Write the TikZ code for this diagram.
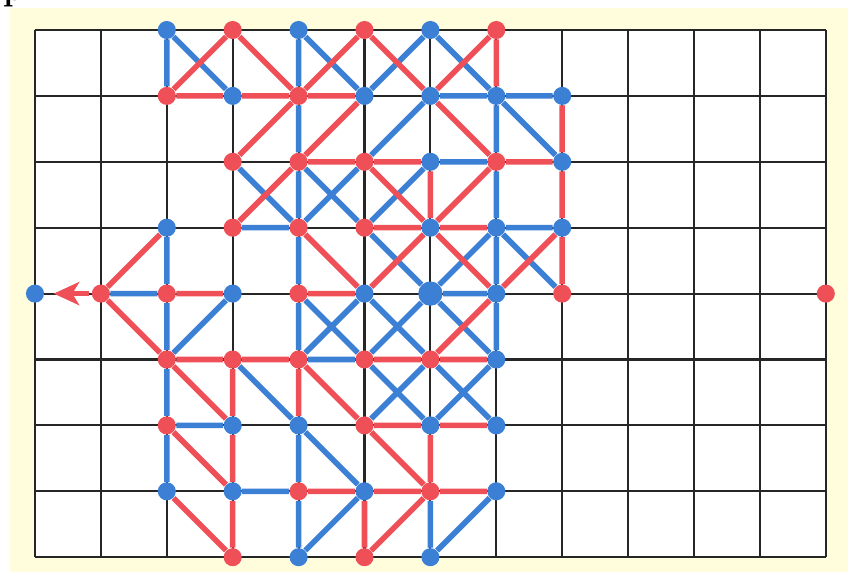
\documentclass[tikz,border=0pt]{standalone}
\usepackage{tikz}
\usetikzlibrary{arrows.meta,backgrounds}
\definecolor{dotblue}{HTML}{3B80D4}
\definecolor{dotred}{HTML}{EF5058}
\definecolor{paper}{HTML}{FFFDDC}

\begin{document}
\begin{tikzpicture}[
  bdot/.style={circle, fill=dotblue, inner sep=0pt, minimum size=7.8pt},
  rdot/.style={circle, fill=dotred, inner sep=0pt, minimum size=7.8pt},
  bigdot/.style={bdot, minimum size=10.5pt},
  bedge/.style={dotblue, line width=2.4pt},
  redge/.style={dotred, line width=2.4pt},
  gridline/.style={black!85, line width=0.9pt},
  redarr/.style={dotred, line width=2.4pt, -{Stealth[length=11pt,width=10pt,inset=3pt]}}
]
  \useasboundingbox (-0.531,0.455) rectangle (12.337,-8.225);

  % Cropped heading letter
  \node[anchor=base west, inner sep=0pt, font=\bfseries\Large] (head) at (-0.49,0.455) {p};

  % Row 0
  \node[bdot] (b20) at (2,0) {};
  \node[rdot] (r30) at (3,0) {};
  \node[bdot] (b40) at (4,0) {};
  \node[rdot] (r50) at (5,0) {};
  \node[bdot] (b60) at (6,0) {};
  \node[rdot] (r70) at (7,0) {};
  % Row 1
  \node[rdot] (r21) at (2,-1) {};
  \node[bdot] (b31) at (3,-1) {};
  \node[rdot] (r41) at (4,-1) {};
  \node[bdot] (b51) at (5,-1) {};
  \node[bdot] (b61) at (6,-1) {};
  \node[bdot] (b71) at (7,-1) {};
  \node[bdot] (b81) at (8,-1) {};
  % Row 2
  \node[rdot] (r32) at (3,-2) {};
  \node[rdot] (r42) at (4,-2) {};
  \node[rdot] (r52) at (5,-2) {};
  \node[bdot] (b62) at (6,-2) {};
  \node[rdot] (r72) at (7,-2) {};
  \node[bdot] (b82) at (8,-2) {};
  % Row 3
  \node[bdot] (b23) at (2,-3) {};
  \node[rdot] (r33) at (3,-3) {};
  \node[rdot] (r43) at (4,-3) {};
  \node[rdot] (r53) at (5,-3) {};
  \node[bdot] (b63) at (6,-3) {};
  \node[bdot] (b73) at (7,-3) {};
  \node[bdot] (b83) at (8,-3) {};
  % Row 4
  \node[bdot] (b04) at (0,-4) {};
  \node[rdot] (r14) at (1,-4) {};
  \node[rdot] (r24) at (2,-4) {};
  \node[bdot] (b34) at (3,-4) {};
  \node[rdot] (r44) at (4,-4) {};
  \node[bdot] (b54) at (5,-4) {};
  \node[bigdot] (b64) at (6,-4) {};
  \node[bdot] (b74) at (7,-4) {};
  \node[rdot] (r84) at (8,-4) {};
  \node[rdot] (r124) at (12,-4) {};
  % Row 5
  \node[rdot] (r25) at (2,-5) {};
  \node[rdot] (r35) at (3,-5) {};
  \node[rdot] (r45) at (4,-5) {};
  \node[rdot] (r55) at (5,-5) {};
  \node[rdot] (r65) at (6,-5) {};
  \node[bdot] (b75) at (7,-5) {};
  % Row 6
  \node[rdot] (r26) at (2,-6) {};
  \node[bdot] (b36) at (3,-6) {};
  \node[bdot] (b46) at (4,-6) {};
  \node[rdot] (r56) at (5,-6) {};
  \node[bdot] (b66) at (6,-6) {};
  \node[bdot] (b76) at (7,-6) {};
  % Row 7
  \node[bdot] (b27) at (2,-7) {};
  \node[bdot] (b37) at (3,-7) {};
  \node[rdot] (r47) at (4,-7) {};
  \node[bdot] (b57) at (5,-7) {};
  \node[rdot] (r67) at (6,-7) {};
  \node[bdot] (b77) at (7,-7) {};
  % Row 8
  \node[rdot] (r38) at (3,-8) {};
  \node[bdot] (b48) at (4,-8) {};
  \node[rdot] (r58) at (5,-8) {};
  \node[bdot] (b68) at (6,-8) {};

  \begin{scope}[on background layer]
    % Paper and grid
    \fill[paper] (-0.38,0.334) rectangle (12.337,-8.225);
    \fill[white] (0,0) rectangle (12,-8);
    \draw[gridline] (0,-8) grid (12,0);

    % Blue edges
    \draw[bedge] (b20) -- (r21) (b20) -- (b31) (b40) -- (r41) (b40) -- (b51)
      (b51) -- (b60) (b60) -- (b71) (b71) -- (b82) (b61) -- (b71) (b71) -- (b81)
      (r41) -- (r42) (b61) -- (r52) (r52) -- (r43) (b71) -- (r72) (r72) -- (b73)
      (r42) -- (r43) (r43) -- (r44) (r44) -- (r45) (r32) -- (r43) (r42) -- (r53)
      (r53) -- (b62) (b62) -- (r72) (r53) -- (b64) (r33) -- (r43) (b64) -- (b73)
      (b73) -- (r84) (b73) -- (b83) (b73) -- (b74) (b74) -- (b75) (b64) -- (b74)
      (r44) -- (r55) (r45) -- (b54) (b54) -- (r65) (r55) -- (b64) (b64) -- (b75)
      (r45) -- (r55) (r14) -- (r24) (b23) -- (r24) (r24) -- (r25) (r25) -- (r26)
      (r26) -- (b27) (b34) -- (r25) (r35) -- (b46) (b46) -- (b57) (b46) -- (r47)
      (r47) -- (b48) (r55) -- (b66) (r56) -- (r65) (r65) -- (b76) (b66) -- (b75)
      (r26) -- (b36) (b37) -- (r47) (b48) -- (b57) (r67) -- (b68) (b68) -- (b77);

    % Red edges
    \draw[redge] (r21) -- (r30) (r30) -- (r41) (r21) -- (b31) (b31) -- (r41)
      (r41) -- (b51) (r41) -- (r50) (r50) -- (b61) (b61) -- (r70) (r70) -- (b71)
      (r41) -- (r32) (r42) -- (b51) (b61) -- (r72) (b81) -- (b82) (b82) -- (b83)
      (b83) -- (r84) (r42) -- (r52) (r52) -- (b62) (r72) -- (b82) (b62) -- (b63)
      (r52) -- (b63) (r72) -- (b63) (r42) -- (r33) (r53) -- (b63) (b63) -- (b73)
      (r43) -- (b54) (b54) -- (b63) (b63) -- (b74) (b74) -- (b83) (r44) -- (b54)
      (r65) -- (b74) (r55) -- (r65) (r65) -- (b75) (r14) -- (b23) (r14) -- (r25)
      (r25) -- (b36) (r24) -- (b34) (r25) -- (r35) (r35) -- (r45) (r35) -- (b36)
      (b36) -- (b37) (b37) -- (r38) (r45) -- (b46) (r45) -- (r56) (r26) -- (b37)
      (b27) -- (r38) (r56) -- (b66) (b66) -- (b76) (r56) -- (r67) (b66) -- (r67)
      (r47) -- (b57) (b57) -- (r67) (b57) -- (r58) (r58) -- (r67) (r67) -- (b77);

    % Arrow to the left end
    \draw[redarr, shorten <=1pt, shorten >=4pt] (r14) -- (b04);
  \end{scope}
\end{tikzpicture}
\end{document}
